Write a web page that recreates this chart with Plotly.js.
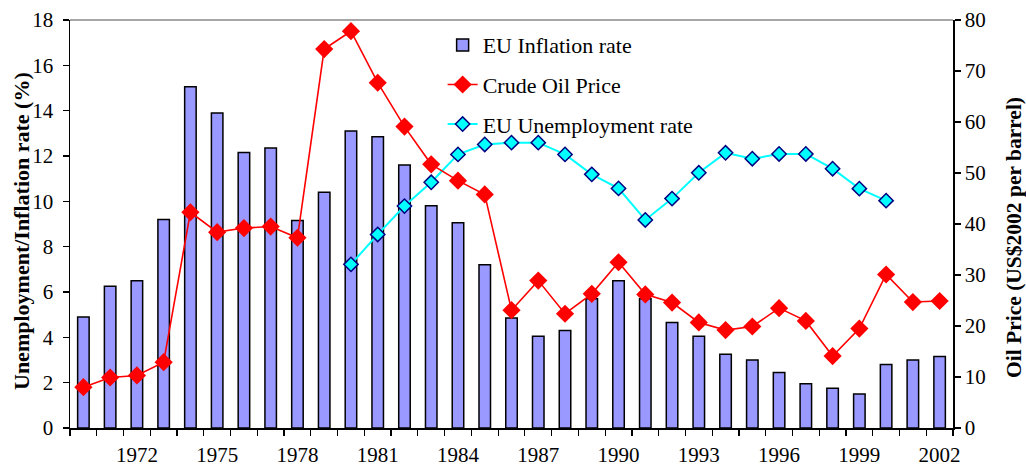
<!DOCTYPE html>
<html>
<head>
<meta charset="utf-8">
<script src="https://cdn.plot.ly/plotly-3.0.1.min.js"></script>
<style>html,body{margin:0;padding:0;background:#fff;}#chart{width:1026px;height:468px;}</style>
</head>
<body>
<div id="chart"></div>
<script>
const years = [1970,1971,1972,1973,1974,1975,1976,1977,1978,1979,1980,1981,1982,1983,1984,1985,1986,1987,1988,1989,1990,1991,1992,1993,1994,1995,1996,1997,1998,1999,2000,2001,2002];
const inflation = [4.9,6.25,6.5,9.2,15.05,13.9,12.15,12.35,9.15,10.4,13.1,12.85,11.6,9.8,9.05,7.2,4.85,4.05,4.3,5.7,6.5,5.7,4.65,4.05,3.25,3.0,2.45,1.95,1.75,1.5,2.8,3.0,3.15];
const oilPrice = [8.0,9.9,10.3,12.9,42.3,38.4,39.2,39.5,37.3,74.3,77.8,67.7,59.1,51.7,48.5,45.8,23.1,28.9,22.4,26.3,32.5,26.2,24.6,20.7,19.2,19.9,23.5,21.0,14.1,19.5,30.1,24.7,24.9];
const unempYears = [1980,1981,1982,1983,1984,1985,1986,1987,1988,1989,1990,1991,1992,1993,1994,1995,1996,1997,1998,1999,2000];
const unemployment = [7.22,8.54,9.79,10.84,12.07,12.51,12.59,12.59,12.07,11.19,10.57,9.18,10.12,11.26,12.14,11.88,12.09,12.09,11.44,10.56,10.03];
const tickYears = [1972,1975,1978,1981,1984,1987,1990,1993,1996,1999,2002];
const leftTitle = 'Unemployment/Inflation rate (%)';
const rightTitle = 'Oil Price (US$2002 per barrel)';

const FONT = 'Liberation Serif, Times New Roman, serif';

const traces = [
  {type:'bar', x:years, y:inflation, name:'EU Inflation rate', yaxis:'y', width:0.43,
   marker:{color:'#9999FF', line:{color:'#000000', width:1.5}}, legendgroup:'a'},
  {type:'scatter', mode:'lines+markers', x:years, y:oilPrice, name:'Crude Oil Price', yaxis:'y2',
   line:{color:'#FF0000', width:1.6}, marker:{symbol:'diamond', size:14, color:'#FF0000'}, legendgroup:'b'},
  {type:'scatter', mode:'lines+markers', x:unempYears, y:unemployment, name:'EU Unemployment rate', yaxis:'y',
   line:{color:'#00FFFF', width:2}, marker:{symbol:'diamond', size:11, color:'#00FFFF', line:{color:'#000080', width:1.5}}, legendgroup:'c'}
];

const layout = {
  width:1026, height:468,
  margin:{l:70, r:73, t:20, b:40},
  paper_bgcolor:'#ffffff', plot_bgcolor:'#ffffff',
  font:{family:FONT, size:21, color:'#000'},
  showlegend:true,
  legend:{x:0.422, y:0.99, xanchor:'left', yanchor:'top', bgcolor:'rgba(0,0,0,0)',
    traceorder:'grouped', tracegroupgap:8, font:{family:FONT, size:22}},
  bargap:0.5,
  xaxis:{range:[1969.5,2002.5], tickmode:'array', tickvals:tickYears,
    ticks:'outside', ticklen:7, tickcolor:'rgba(0,0,0,0)',
    showline:true, linecolor:'#000', linewidth:1.5, showgrid:false, zeroline:false,
    tickfont:{family:FONT, size:21},
    minor:{ticks:'outside', tick0:1969.5, dtick:1, ticklen:6, tickcolor:'#000', tickwidth:1.2, showgrid:false}},
  yaxis:{range:[0,18], dtick:2, ticks:'outside', ticklen:6, tickcolor:'#000', tickwidth:1.2, ticklabelstandoff:5,
    showline:true, linecolor:'#000', linewidth:1.5, showgrid:false, zeroline:false,
    tickfont:{family:FONT, size:21}},
  yaxis2:{range:[0,80], dtick:10, overlaying:'y', side:'right', ticks:'outside', ticklen:6, tickcolor:'#000', tickwidth:1.2,
    showline:true, linecolor:'#000', linewidth:1.5, showgrid:false, zeroline:false,
    tickfont:{family:FONT, size:21}},
  annotations:[
    {text:'<b>'+leftTitle+'</b>', xref:'paper', yref:'paper', x:(22-70)/883, y:(428-231)/408,
     xanchor:'center', yanchor:'middle', textangle:-90, showarrow:false, font:{family:FONT, size:22}},
    {text:'<b>'+rightTitle+'</b>', xref:'paper', yref:'paper', x:(1014-70)/883, y:(428-238)/408,
     xanchor:'center', yanchor:'middle', textangle:-90, showarrow:false, font:{family:FONT, size:21.5}}
  ],
  shapes:[{type:'line', xref:'paper', yref:'paper', x0:0, x1:1, y0:1, y1:1, line:{color:'#888888', width:1.5}}]
};

Plotly.newPlot('chart', traces, layout, {displayModeBar:false, staticPlot:true});
</script>
</body>
</html>
